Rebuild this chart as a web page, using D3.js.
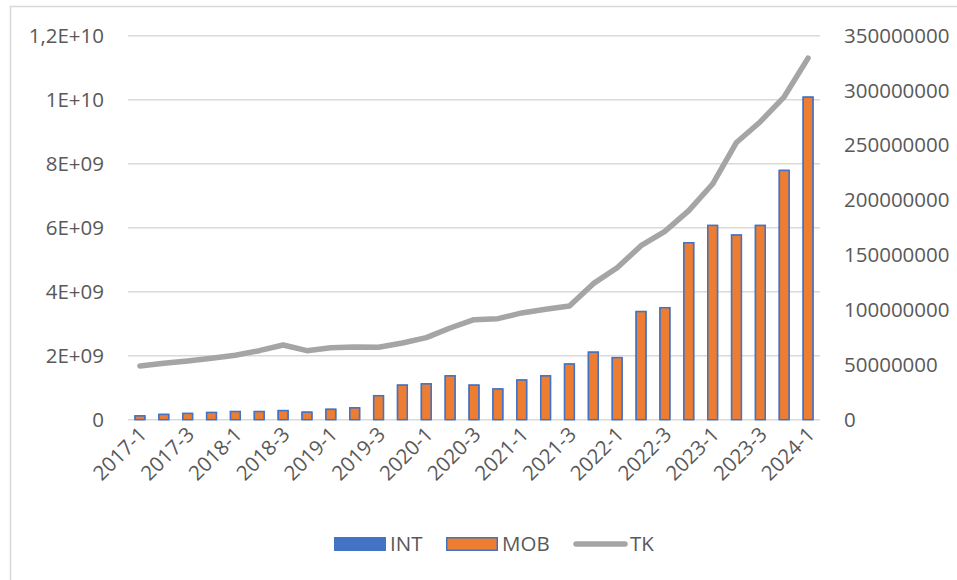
<!DOCTYPE html>
<html>
<head>
<meta charset="utf-8">
<script src="https://cdn.jsdelivr.net/npm/d3@7"></script>
<style>
  html, body { margin: 0; padding: 0; background: #fff; }
  svg { display: block; font-family: "Open Sans", sans-serif; }
</style>
</head>
<body>
<svg id="chart" width="957" height="580"></svg>
<script>
// quarters shown on the x axis
const categories = ["2017-1","2017-2","2017-3","2017-4","2018-1","2018-2","2018-3","2018-4",
  "2019-1","2019-2","2019-3","2019-4","2020-1","2020-2","2020-3","2020-4",
  "2021-1","2021-2","2021-3","2021-4","2022-1","2022-2","2022-3","2022-4",
  "2023-1","2023-2","2023-3","2023-4","2024-1"];

// bar series (left axis)
const mobValues = [1.2e8,1.65e8,1.95e8,2.25e8,2.55e8,2.55e8,2.85e8,2.35e8,3.25e8,3.7e8,
  7.5e8,1.08e9,1.12e9,1.37e9,1.08e9,9.6e8,1.24e9,1.37e9,1.74e9,2.11e9,
  1.94e9,3.38e9,3.5e9,5.53e9,6.07e9,5.77e9,6.07e9,7.79e9,1.008e10];
const intValues = [2e7,2e7,2e7,2e7,2e7,2e7,2e7,2e7,2e7,2e7,
  2e7,2e7,2e7,2e7,2e7,2e7,2e7,2e7,2e7,2e7,
  2e7,2e7,2e7,2e7,2e7,2e7,2e7,2e7,2e7];

// line series (right axis)
const tkValues = [49e6,51.4e6,53.5e6,56e6,58.7e6,62.9e6,68.1e6,62.9e6,65.6e6,66.3e6,
  66e6,69.9e6,74.8e6,83.6e6,91.2e6,92.1e6,97.3e6,100.6e6,103.6e6,124e6,
  138.5e6,158.6e6,171.6e6,190.5e6,214.8e6,252.7e6,271.6e6,294.3e6,329.6e6];

const leftTicks = [0, 2e9, 4e9, 6e9, 8e9, 1e10, 1.2e10];
const leftTickLabels = ["0", "2E+09", "4E+09", "6E+09", "8E+09", "1E+10", "1,2E+10"];
const rightTicks = [0, 5e7, 1e8, 1.5e8, 2e8, 2.5e8, 3e8, 3.5e8];

const colors = { INT: "#4472C4", MOB: "#ED7D31", TK: "#A5A5A5" };
const textColor = "#595959";
const gridColor = "#D9D9D9";

const svg = d3.select("#chart");

// outer chart frame
svg.append("rect")
  .attr("x", 10.5).attr("y", 6.5)
  .attr("width", 960).attr("height", 600)
  .attr("fill", "none").attr("stroke", gridColor).attr("stroke-width", 1.5);

const plot = { left: 128, right: 820, top: 35.7, bottom: 419.7 };

const x = d3.scaleBand()
  .domain(categories)
  .range([plot.left, plot.right])
  .paddingInner(0.53)
  .paddingOuter(0.265);

const yL = d3.scaleLinear().domain([0, 1.2e10]).range([plot.bottom, plot.top]);
const yR = d3.scaleLinear().domain([0, 3.5e8]).range([plot.bottom, plot.top]);

// gridlines
svg.append("g")
  .selectAll("line")
  .data(leftTicks)
  .join("line")
  .attr("x1", plot.left).attr("x2", plot.right)
  .attr("y1", d => yL(d)).attr("y2", d => yL(d))
  .attr("stroke", gridColor).attr("stroke-width", 1.5);

// left axis
const leftAxis = svg.append("g")
  .attr("transform", `translate(${plot.left},0)`)
  .call(d3.axisLeft(yL).tickValues(leftTicks)
    .tickFormat((d, i) => leftTickLabels[i]).tickSize(0).tickPadding(24));
leftAxis.select(".domain").remove();
leftAxis.selectAll("text")
  .attr("fill", textColor).style("font-size", "20.5px")
  .style("font-family", "'Open Sans', sans-serif");

// right axis
const rightAxis = svg.append("g")
  .attr("transform", `translate(${plot.right},0)`)
  .call(d3.axisRight(yR).tickValues(rightTicks)
    .tickFormat(d3.format("d")).tickSize(0).tickPadding(24));
rightAxis.select(".domain").remove();
rightAxis.selectAll("text")
  .attr("fill", textColor).style("font-size", "20.5px")
  .style("font-family", "'Open Sans', sans-serif");

// bottom axis, every other quarter labelled
const bottomAxis = svg.append("g")
  .attr("transform", `translate(0,${plot.bottom})`)
  .call(d3.axisBottom(x)
    .tickValues(categories.filter((d, i) => i % 2 === 0))
    .tickSize(0).tickPadding(0));
bottomAxis.select(".domain").remove();
bottomAxis.selectAll("text")
  .attr("fill", textColor).style("font-size", "20.5px")
  .style("font-family", "'Open Sans', sans-serif")
  .attr("text-anchor", "end")
  .attr("dy", 0)
  .attr("transform", "translate(8,16) rotate(-45)");

// bars: INT stacked on top of MOB
const bars = svg.append("g")
  .selectAll("g")
  .data(categories.map((c, i) => ({ c, mob: mobValues[i], int: intValues[i] })))
  .join("g");

bars.append("rect")
  .attr("x", d => x(d.c))
  .attr("width", x.bandwidth())
  .attr("y", d => yL(d.mob + d.int))
  .attr("height", d => yL(0) - yL(d.mob + d.int))
  .attr("fill", colors.INT);

bars.append("rect")
  .attr("x", d => x(d.c) + 0.75)
  .attr("width", x.bandwidth() - 1.5)
  .attr("y", d => yL(d.mob))
  .attr("height", d => yL(0) - yL(d.mob))
  .attr("fill", colors.MOB)
  .attr("stroke", colors.INT).attr("stroke-width", 1.5);

// line
const line = d3.line()
  .x((d, i) => x(categories[i]) + x.bandwidth() / 2)
  .y(d => yR(d));

svg.append("path")
  .datum(tkValues)
  .attr("d", line)
  .attr("fill", "none")
  .attr("stroke", colors.TK)
  .attr("stroke-width", 5.5)
  .attr("stroke-linejoin", "round")
  .attr("stroke-linecap", "round");

// legend
const legend = svg.append("g").style("font-size", "20.5px").attr("fill", textColor);
const ly = 544;

legend.append("rect").attr("x", 334).attr("y", ly - 7).attr("width", 52).attr("height", 14)
  .attr("fill", colors.INT);
legend.append("text").attr("x", 390).attr("y", ly).attr("dy", "0.35em").text("INT");

legend.append("rect").attr("x", 446.75).attr("y", ly - 6.25).attr("width", 50.5).attr("height", 12.5)
  .attr("fill", colors.MOB).attr("stroke", colors.INT).attr("stroke-width", 1.5);
legend.append("text").attr("x", 502).attr("y", ly).attr("dy", "0.35em").text("MOB");

legend.append("line").attr("x1", 576).attr("x2", 625).attr("y1", ly).attr("y2", ly)
  .attr("stroke", colors.TK).attr("stroke-width", 5.5).attr("stroke-linecap", "round");
legend.append("text").attr("x", 630).attr("y", ly).attr("dy", "0.35em").text("TK");
</script>
</body>
</html>
